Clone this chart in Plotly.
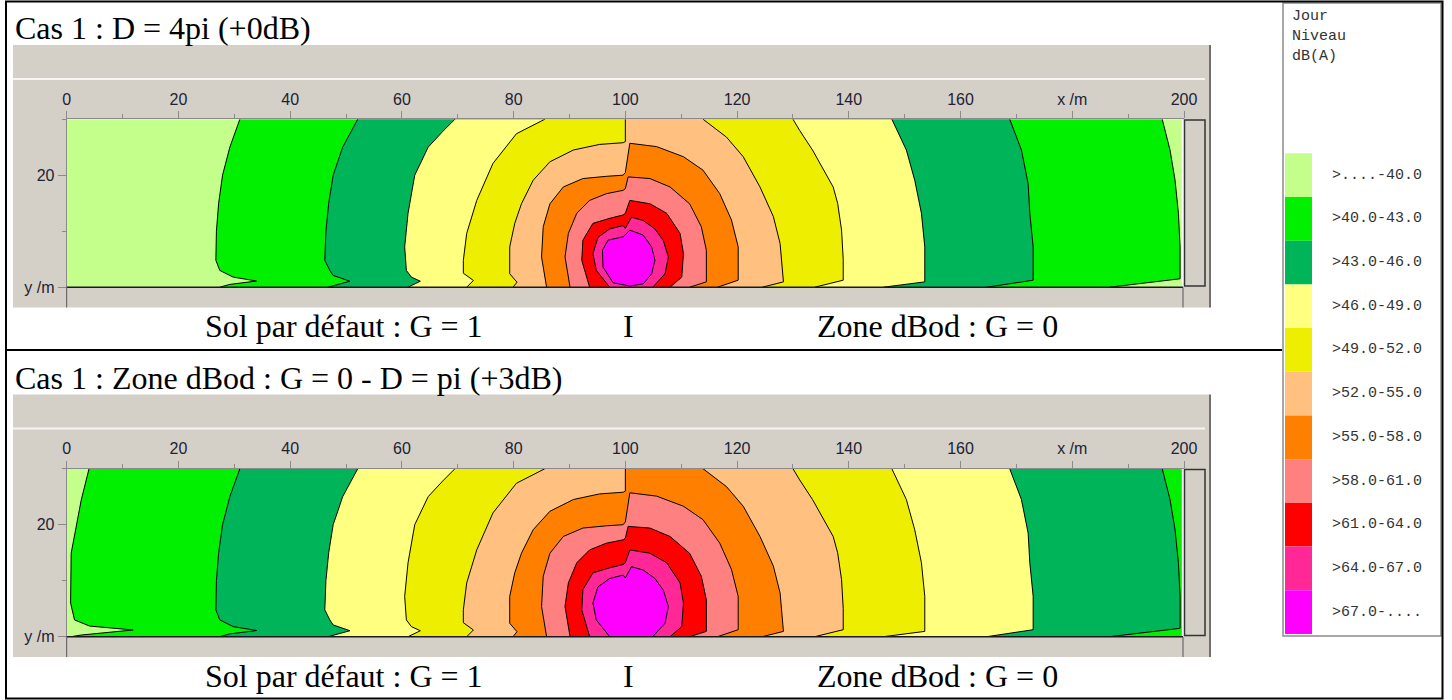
import plotly.graph_objects as go

W, H = 1452, 700

# ---------------- data ----------------
BAND_LABELS = [">....-40.0", ">40.0-43.0", ">43.0-46.0", ">46.0-49.0", ">49.0-52.0",
               ">52.0-55.0", ">55.0-58.0", ">58.0-61.0", ">61.0-64.0", ">64.0-67.0", ">67.0-...."]
BAND_COLORS = ["#C4FF8C", "#00F000", "#00B45A", "#FFFF80", "#EEEE00",
               "#FFC080", "#FF8000", "#FF8080", "#FF0000", "#FF2896", "#FF00FF"]
THRESHOLDS_DB = [40, 43, 46, 49, 52, 55, 58, 61, 64, 67]

X_TICKS = [0, 20, 40, 60, 80, 100, 120, 140, 160, 180, 200]
X_TICK_TEXT = ["0", "20", "40", "60", "80", "100", "120", "140", "160", "x /m", "200"]
X_MINOR = [10, 30, 50, 70, 90, 110, 130, 150, 170, 190]
Y_TICKS = [0, 20]
Y_TICK_TEXT = ["y /m", "20"]
Y_MINOR = [10, 30]

MAP_X_MAX = 199.6
MAP_Y_MAX = 30

# iso-dB lines of the base (+0 dB) map (x, y in m)
ISO_37_X = [0.8, 2.6, 11.9, 4.1, 1.4, 0.7, 0.8, 1.7, 2.6, 4.0, 199.6, 199.6]
ISO_37_Y = [0.0, 0.3, 1.2, 1.9, 3.0, 6.0, 14.9, 19.9, 24.4, 30, 30, 0.0]

ISO_40_X = [27.4, 29.2, 34.0, 29.8, 27.4, 26.7, 26.8, 27.2, 27.9, 29.2, 31.0,
            196.1, 197.5, 198.4, 199.0, 199.3, 199.3, 186.7]
ISO_40_Y = [0.0, 0.5, 1.1, 1.8, 3.0, 4.8, 10, 15, 20, 25, 30,
            30, 24.5, 19.1, 13.2, 7.2, 1.5, 0.0]

ISO_43_X = [46.8, 48.5, 50.7, 47.7, 47.1, 46.2, 46.4, 46.9, 47.7, 49.4, 52.1,
            168.8, 170.9, 172.1, 172.4, 173.0, 173.0, 164.7]
ISO_43_Y = [0.0, 0.5, 1.07, 2.1, 3.0, 4.8, 10, 15, 20, 25, 30,
            30, 24.5, 18.5, 13.2, 7.2, 1.25, 0.0]

ISO_46_X = [61.1, 62.2, 63.3, 61.7, 60.8, 60.5, 61.1, 62.3, 64.7, 67.3, 69.5,
            147.7, 150.3, 151.8, 153.0, 153.6, 153.6, 146.2]
ISO_46_Y = [0.0, 0.55, 1.07, 1.8, 3.0, 7.2, 13.2, 20, 25, 27.8, 30,
            30, 24.5, 19.1, 13.2, 7.2, 0.95, 0.0]

ISO_49_X = [71.6, 72.8, 71.0, 71.0, 71.6, 73.4, 76.3, 80.5, 85.6,
            130.0, 131.2, 133.5, 135.5, 137.2, 138.0, 138.7, 139.0, 139.0, 133.9]
ISO_49_Y = [0.0, 1.2, 2.5, 4.8, 9.6, 15.5, 22.1, 27.4, 30,
            30, 28, 24.5, 21, 17.9, 15, 10.2, 5, 1.25, 0.0]

ISO_52_X = [79.9, 80.6, 79.3, 79.3, 80.2, 81.4, 83.5, 86.5, 90.7, 95.4, 99.6, 100.0, 100.0,
            113.9, 118.1, 121.1, 124.1, 126.5, 127.7, 128.3, 124.5]
ISO_52_Y = [0.0, 0.9, 2.4, 7.2, 11.4, 14.9, 19.1, 22.4, 24.5, 25.5, 25.8, 26.0, 30,
            30, 26.8, 23.3, 17.9, 12.6, 7.8, 0.95, 0.0]

ISO_55_X = [85.9, 85.0, 85.3, 86.5, 88.9, 92.4, 96.6, 99.6, 100.0, 100.8,
            105.6, 110.4, 113.9, 116.9, 119.0, 120.2, 120.2, 116.5]
ISO_55_Y = [0.0, 5.4, 10.8, 14.9, 17.9, 19.4, 19.8, 20.0, 20.5, 25.7,
            25.1, 23.3, 20.9, 16.7, 12.0, 7.2, 1.25, 0.0]

ISO_58_X = [90.1, 89.2, 89.8, 91.3, 93.6, 96.6, 99.6, 100.0, 100.5,
            104.4, 108.0, 111.5, 113.6, 114.5, 114.5, 111.5]
ISO_58_Y = [0.0, 5.4, 9.6, 13.2, 15.5, 16.7, 17.3, 17.6, 19.7,
            19.4, 17.9, 14.9, 10.8, 6.6, 0.95, 0.0]

ISO_61_X = [93.6, 92.2, 92.4, 94.2, 97.2, 99.6, 100.0, 100.8,
            104.4, 107.4, 109.8, 110.4, 110.1, 108.0]
ISO_61_Y = [0.0, 4.8, 8.4, 11.4, 12.3, 12.9, 13.2, 15.5,
            14.9, 13.2, 9.6, 6.0, 1.8, 0.0]

ISO_64_X = [97.2, 94.8, 94.2, 95.1, 97.2, 99.6, 100.0, 101.1,
            103.2, 105.3, 106.8, 107.7, 107.1, 105.0]
ISO_64_Y = [0.0, 3.0, 6.0, 8.9, 10.4, 11.0, 10.5, 12.5,
            11.9, 10.4, 8.3, 5.4, 2.4, 0.1]

ISO_67_X = [100.8, 97.8, 96.0, 95.9, 96.9, 99.6, 100.8, 103.2, 104.7, 105.3, 104.7, 103.2, 100.8]
ISO_67_Y = [0.2, 0.8, 3.6, 6.6, 8.4, 9.0, 10.2, 9.3, 7.2, 4.8, 2.4, 0.6, 0.2]

ISO_LINES = {
    37: (ISO_37_X, ISO_37_Y), 40: (ISO_40_X, ISO_40_Y), 43: (ISO_43_X, ISO_43_Y),
    46: (ISO_46_X, ISO_46_Y), 49: (ISO_49_X, ISO_49_Y), 52: (ISO_52_X, ISO_52_Y),
    55: (ISO_55_X, ISO_55_Y), 58: (ISO_58_X, ISO_58_Y), 61: (ISO_61_X, ISO_61_Y),
    64: (ISO_64_X, ISO_64_Y), 67: (ISO_67_X, ISO_67_Y),
}

PANEL_TITLES = ["Cas 1 : D = 4pi (+0dB)", "Cas 1 : Zone dBod : G = 0 - D = pi (+3dB)"]
PANEL_OFFSET_DB = [0, 3]
GROUND_LEFT = "Sol par défaut : G = 1"
SOURCE_MARK = "I"
GROUND_RIGHT = "Zone dBod : G = 0"
LEGEND_TITLE = ["Jour", "Niveau", "dB(A)"]

# ---------------- style / layout (pixels) ----------------
GRAY = "#D4D0C8"
PX_X0, PX_X1 = 66.7, 1184.0
PY_Y0, PY_Y30 = 287.2, 119.2
PANEL_DY = 349.5
SERIF = "Liberation Serif"
SANS = "Liberation Sans"
MONO = "Liberation Mono"


def X(px):
    return px / W


def Y(py):
    return 1 - py / H


fig = go.Figure()
shapes = []
annotations = []


def rect(x0, y0, x1, y1, fill=None, line=None, lw=0, layer="below"):
    d = dict(type="rect", xref="paper", yref="paper", x0=X(x0), x1=X(x1), y0=Y(y1), y1=Y(y0),
             layer=layer, line=dict(width=lw, color=line or "rgba(0,0,0,0)"))
    if fill:
        d["fillcolor"] = fill
    shapes.append(d)


def hline(x0, x1, y, color, lw=1, layer="above"):
    shapes.append(dict(type="line", xref="paper", yref="paper", x0=X(x0), x1=X(x1), y0=Y(y), y1=Y(y),
                       layer=layer, line=dict(color=color, width=lw)))


def vline(x, y0, y1, color, lw=1, layer="above"):
    shapes.append(dict(type="line", xref="paper", yref="paper", x0=X(x), x1=X(x), y0=Y(y0), y1=Y(y1),
                       layer=layer, line=dict(color=color, width=lw)))


def text(x, y, s, size, family, color="black", xanchor="left"):
    annotations.append(dict(x=X(x), y=Y(y), xref="paper", yref="paper", text=s, showarrow=False,
                            xanchor=xanchor, yanchor="middle",
                            font=dict(family=family, size=size, color=color)))


def line_with_breaks(xs, ys):
    lx, ly = [xs[0]], [ys[0]]
    for i in range(1, len(xs)):
        on_top = ys[i] >= MAP_Y_MAX and ys[i - 1] >= MAP_Y_MAX
        on_right = xs[i] >= MAP_X_MAX and xs[i - 1] >= MAP_X_MAX
        if on_top or on_right:
            lx.append(None)
            ly.append(None)
        lx.append(xs[i])
        ly.append(ys[i])
    return lx, ly


for p, (title, off) in enumerate(zip(PANEL_TITLES, PANEL_OFFSET_DB)):
    dy = p * PANEL_DY
    xa = "x" if p == 0 else "x2"
    ya = "y" if p == 0 else "y2"

    fig.add_trace(go.Scatter(x=[0, MAP_X_MAX, MAP_X_MAX, 0], y=[0, 0, MAP_Y_MAX, MAP_Y_MAX],
                             fill="toself", fillcolor=BAND_COLORS[0], mode="lines",
                             line=dict(width=0), hoverinfo="skip", showlegend=False,
                             xaxis=xa, yaxis=ya))
    for k, t in enumerate(THRESHOLDS_DB):
        xs, ys = ISO_LINES[t - off]
        fig.add_trace(go.Scatter(x=xs, y=ys, fill="toself", fillcolor=BAND_COLORS[k + 1],
                                 mode="lines", line=dict(width=0), hoverinfo="skip",
                                 showlegend=False, xaxis=xa, yaxis=ya))
    for t in THRESHOLDS_DB:
        xs, ys = ISO_LINES[t - off]
        lx, ly = line_with_breaks(xs, ys)
        fig.add_trace(go.Scatter(x=lx, y=ly, mode="lines", line=dict(color="black", width=1),
                                 hoverinfo="skip", showlegend=False, xaxis=xa, yaxis=ya,
                                 connectgaps=False))

    axis_common = dict(showgrid=False, zeroline=False, fixedrange=True, showline=True,
                       automargin=False,
                       linecolor="#8a8a8a", linewidth=1, ticks="outside", tickcolor="#8a8a8a",
                       tickwidth=1, tickfont=dict(family=SANS, size=16, color="#222233"))
    xkey = "xaxis" if p == 0 else "xaxis2"
    ykey = "yaxis" if p == 0 else "yaxis2"
    fig.update_layout(**{
        xkey: dict(domain=[X(PX_X0), X(PX_X1)], range=[0, 200], side="top", anchor=ya,
                   tickmode="array", tickvals=X_TICKS, ticktext=X_TICK_TEXT, ticklen=7,
                   minor=dict(tickmode="array", tickvals=X_MINOR, ticks="outside", ticklen=4,
                              tickcolor="#8a8a8a"),
                   **axis_common),
        ykey: dict(domain=[Y(PY_Y0 + dy), Y(PY_Y30 + dy)], range=[0, 30], anchor=xa,
                   tickmode="array", tickvals=Y_TICKS, ticktext=Y_TICK_TEXT, ticklen=8,
                   minor=dict(tickmode="array", tickvals=Y_MINOR, ticks="outside", ticklen=4,
                              tickcolor="#8a8a8a"),
                   **axis_common),
    })

    rect(13, 45 + dy, 1210, 307.5 + dy, fill=GRAY)
    rect(PX_X0, PY_Y30 + dy, PX_X1, PY_Y0 + dy, fill="white")
    hline(13, 1205, 79 + dy, "#F6F5F2", 2)
    vline(1210, 45 + dy, 307.5 + dy, "#707070", 2)
    hline(PX_X0, 1183, PY_Y0 + dy, "#1a1a1a", 1.5)
    vline(PX_X0, PY_Y0 + dy, 307.5 + dy, "#555555", 1)
    vline(1183, PY_Y0 + dy, 307.5 + dy, "#555555", 1)
    rect(1184.5, 120 + dy, 1205, 286 + dy, fill=GRAY, line="#333333", lw=1.5, layer="above")

    text(13, 28.5 + dy, title, 32, SERIF)
    text(203, 326 + dy, GROUND_LEFT, 32, SERIF)
    text(628, 326 + dy, SOURCE_MARK, 32, SERIF, xanchor="center")
    text(815, 326 + dy, GROUND_RIGHT, 32, SERIF)

rect(1283, 3, 1441, 636, fill="white", line="#8a8a8a", lw=1.5, layer="above")
for i, s in enumerate(LEGEND_TITLE):
    text(1290, 17 + 20 * i, s, 15, MONO, color="#333333")
SW_TOP, SW_H = 153.3, 43.7
for i, (lab, col) in enumerate(zip(BAND_LABELS, BAND_COLORS)):
    y0 = SW_TOP + i * SW_H
    rect(1285, y0, 1312, y0 + SW_H, fill=col, layer="above")
    text(1330, y0 + SW_H / 2, lab, 15, MONO, color="#333333")

rect(6, 1.5, 1442.5, 698.5, line="black", lw=2, layer="above")
hline(6, 1282, 350, "black", 2)

fig.update_layout(width=W, height=H, autosize=False, margin=dict(l=0, r=0, t=0, b=0, pad=0),
                  paper_bgcolor="white", plot_bgcolor="rgba(0,0,0,0)",
                  shapes=shapes, annotations=annotations, showlegend=False)

fig.write_html("out.html", config={"displayModeBar": False},
               post_script="document.body.style.margin='0';document.body.style.overflow='hidden';")
